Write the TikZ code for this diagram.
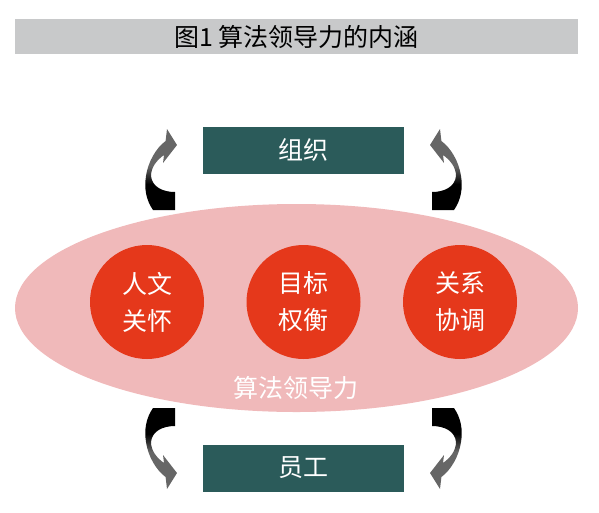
\documentclass[tikz,border=0pt]{standalone}
\usepackage{fontspec}
\newfontfamily\cjk{Noto Sans CJK SC}
\usetikzlibrary{shapes.geometric}
\definecolor{titlegray}{HTML}{C8C9CA}
\definecolor{boxteal}{HTML}{2B5B5A}
\definecolor{ellpink}{HTML}{F0B9BA}
\definecolor{circred}{HTML}{E5381B}
\definecolor{arrgray}{HTML}{666666}
\pgfdeclareverticalshading{arrowshade}{100bp}{color(0bp)=(black); color(41bp)=(black); color(52bp)=(arrgray); color(100bp)=(arrgray)}
\begin{document}
\begin{tikzpicture}[x=1pt,y=-1pt,
  txt/.style={font=\cjk\fontsize{25}{37}\selectfont, align=center},
  titlebar/.style={fill=titlegray, minimum width=563pt, minimum height=35pt, inner sep=0pt, text=black, txt},
  tealbox/.style={fill=boxteal, minimum width=201pt, minimum height=47pt, inner sep=0pt, text=white, txt},
  redcirc/.style={circle, fill=circred, minimum size=114pt, inner sep=0pt, text=white, txt},
  bigell/.style={ellipse, fill=ellpink, minimum width=563pt, minimum height=208pt, inner sep=0pt},
  curvearrow/.style={shading=arrowshade}
]
\useasboundingbox (0,0) rectangle (599,512);
\newcommand\arrowshape{(175,210) -- (153,210) .. controls (146,200) and (144,188) .. (146,176) .. controls (148,162) and (156,148) .. (165.6,141) -- (167,129) -- (177,145) -- (163,163) -- (164,155) .. controls (157,160) and (151,167) .. (151,176) .. controls (152,187) and (163,192) .. (175,192) -- cycle}

\node[titlebar] (title) at (296.5,36.5) {图1 算法领导力的内涵};

\node[bigell] (ell) at (296.5,308) {};
\node[redcirc] (c1) at (147,302) {人文\\关怀};
\node[redcirc] (c2) at (303.5,302) {目标\\权衡};
\node[redcirc] (c3) at (460,302) {关系\\协调};
\node[txt, text=white] (alg) at (296,388) {算法领导力};

\node[tealbox] (org) at (303.5,150) {组织};
\node[tealbox] (emp) at (303.5,468) {员工};

% curved arrows
\shade[curvearrow] \arrowshape;
\begin{scope}[shift={(607,0)}, xscale=-1]
  \shade[curvearrow] \arrowshape;
\end{scope}
\begin{scope}[shift={(0,618)}, yscale=-1]
  \shade[curvearrow, shading angle=180] \arrowshape;
\end{scope}
\begin{scope}[shift={(607,618)}, xscale=-1, yscale=-1]
  \shade[curvearrow, shading angle=180] \arrowshape;
\end{scope}
\end{tikzpicture}
\end{document}
